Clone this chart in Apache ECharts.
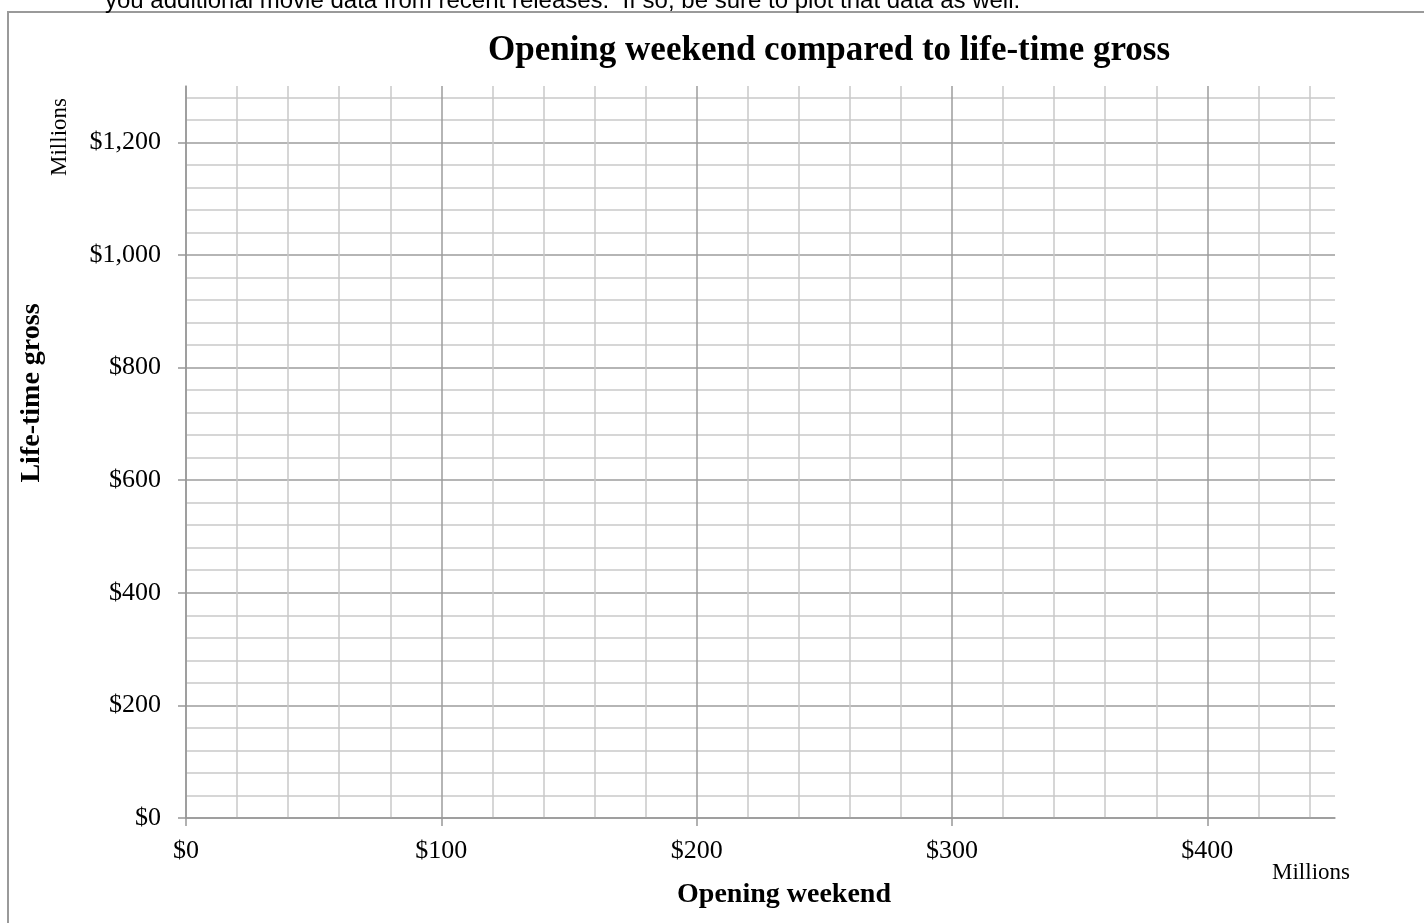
<!DOCTYPE html>
<html>
<head>
<meta charset="utf-8">
<script src="https://cdn.jsdelivr.net/npm/echarts@6/dist/echarts.min.js"></script>
<style>
  html, body { margin: 0; padding: 0; background: #fff; }
  #chart { width: 1424px; height: 923px; }
</style>
</head>
<body>
<div id="chart"></div>
<script>
// axis ranges and tick labels (values in millions)
const xTicks = [0, 100, 200, 300, 400]
const yTicks = [0, 200, 400, 600, 800, 1000, 1200]
const xRange = [0, 450]
const yRange = [0, 1300]
const xMinorStep = 20
const yMinorStep = 40
// the chart is an empty worksheet: no movies plotted yet
const movies = []

const colors = {
  major: '#9c9c9c',
  minor: '#c9c9c9',
  axis: '#989898',
  text: '#000'
}
const serif = '"Liberation Serif", "DejaVu Serif", serif'
const gridColors = [colors.major, colors.minor, colors.minor, colors.minor, colors.minor]

const money = v => '$' + v.toLocaleString('en-US')

const chart = echarts.init(document.getElementById('chart'))

// grid axis: lines every minor step, labels only on the major values
const gridAxis = (range, step, ticks, pos, margin) => ({
  type: 'value',
  position: pos,
  min: range[0],
  max: range[1],
  interval: step,
  axisLine: { show: true, lineStyle: { color: colors.axis, width: 1.5 } },
  axisTick: { show: false },
  axisLabel: {
    customValues: ticks,
    formatter: money,
    margin: margin,
    fontFamily: serif,
    fontSize: 26,
    color: colors.text
  },
  splitLine: {
    show: true,
    showMaxLine: false,
    lineStyle: { color: gridColors, width: 1.5 }
  }
})

// tick axis: only the outside tick marks on the major values
const tickAxis = (range, ticks, pos) => ({
  type: 'value',
  position: pos,
  min: range[0],
  max: range[1],
  axisLine: { show: false },
  axisTick: {
    show: true,
    customValues: ticks,
    length: 8,
    lineStyle: { color: colors.axis, width: 1.5 }
  },
  axisLabel: { show: false },
  splitLine: { show: false }
})

const option = {
  animation: false,
  title: {
    text: 'Opening weekend compared to life-time gross',
    left: 824,
    top: 28,
    textAlign: 'center',
    textStyle: {
      fontFamily: serif,
      fontSize: 35,
      fontWeight: 'bold',
      color: colors.text
    }
  },
  grid: {
    left: 186,
    right: 89,
    top: 86,
    bottom: 105
  },
  xAxis: [
    gridAxis(xRange, xMinorStep, xTicks, 'bottom', 20),
    tickAxis(xRange, xTicks, 'bottom')
  ],
  yAxis: [
    gridAxis(yRange, yMinorStep, yTicks, 'left', 25),
    tickAxis(yRange, yTicks, 'left')
  ],
  series: [
    {
      type: 'scatter',
      xAxisIndex: 0,
      yAxisIndex: 0,
      data: movies,
      symbolSize: 8
    }
  ],
  graphic: [
    // frame of the embedded chart
    {
      type: 'rect',
      shape: { x: 8, y: 12, width: 1500, height: 1000 },
      style: { fill: 'none', stroke: '#9a9a9a', lineWidth: 2 },
      silent: true
    },
    // line of the surrounding document, cut off by the page top
    {
      type: 'text',
      x: 105,
      y: 13,
      style: {
        text: 'you additional movie data from recent releases.  If so, be sure to plot that data as well.',
        fontFamily: '"Liberation Sans", Arial, sans-serif',
        fontSize: 24,
        fill: colors.text,
        verticalAlign: 'bottom'
      }
    },
    {
      type: 'text',
      x: 32,
      y: 393,
      rotation: Math.PI / 2,
      style: {
        text: 'Life-time gross',
        fontFamily: serif,
        fontSize: 28,
        fontWeight: 'bold',
        fill: colors.text,
        align: 'center',
        verticalAlign: 'middle'
      }
    },
    {
      type: 'text',
      x: 60,
      y: 137,
      rotation: Math.PI / 2,
      style: {
        text: 'Millions',
        fontFamily: serif,
        fontSize: 23,
        fill: colors.text,
        align: 'center',
        verticalAlign: 'middle'
      }
    },
    {
      type: 'text',
      x: 784,
      y: 895,
      style: {
        text: 'Opening weekend',
        fontFamily: serif,
        fontSize: 28,
        fontWeight: 'bold',
        fill: colors.text,
        align: 'center',
        verticalAlign: 'middle'
      }
    },
    {
      type: 'text',
      x: 1311,
      y: 873,
      style: {
        text: 'Millions',
        fontFamily: serif,
        fontSize: 23,
        fill: colors.text,
        align: 'center',
        verticalAlign: 'middle'
      }
    }
  ]
}

chart.setOption(option)
</script>
</body>
</html>
